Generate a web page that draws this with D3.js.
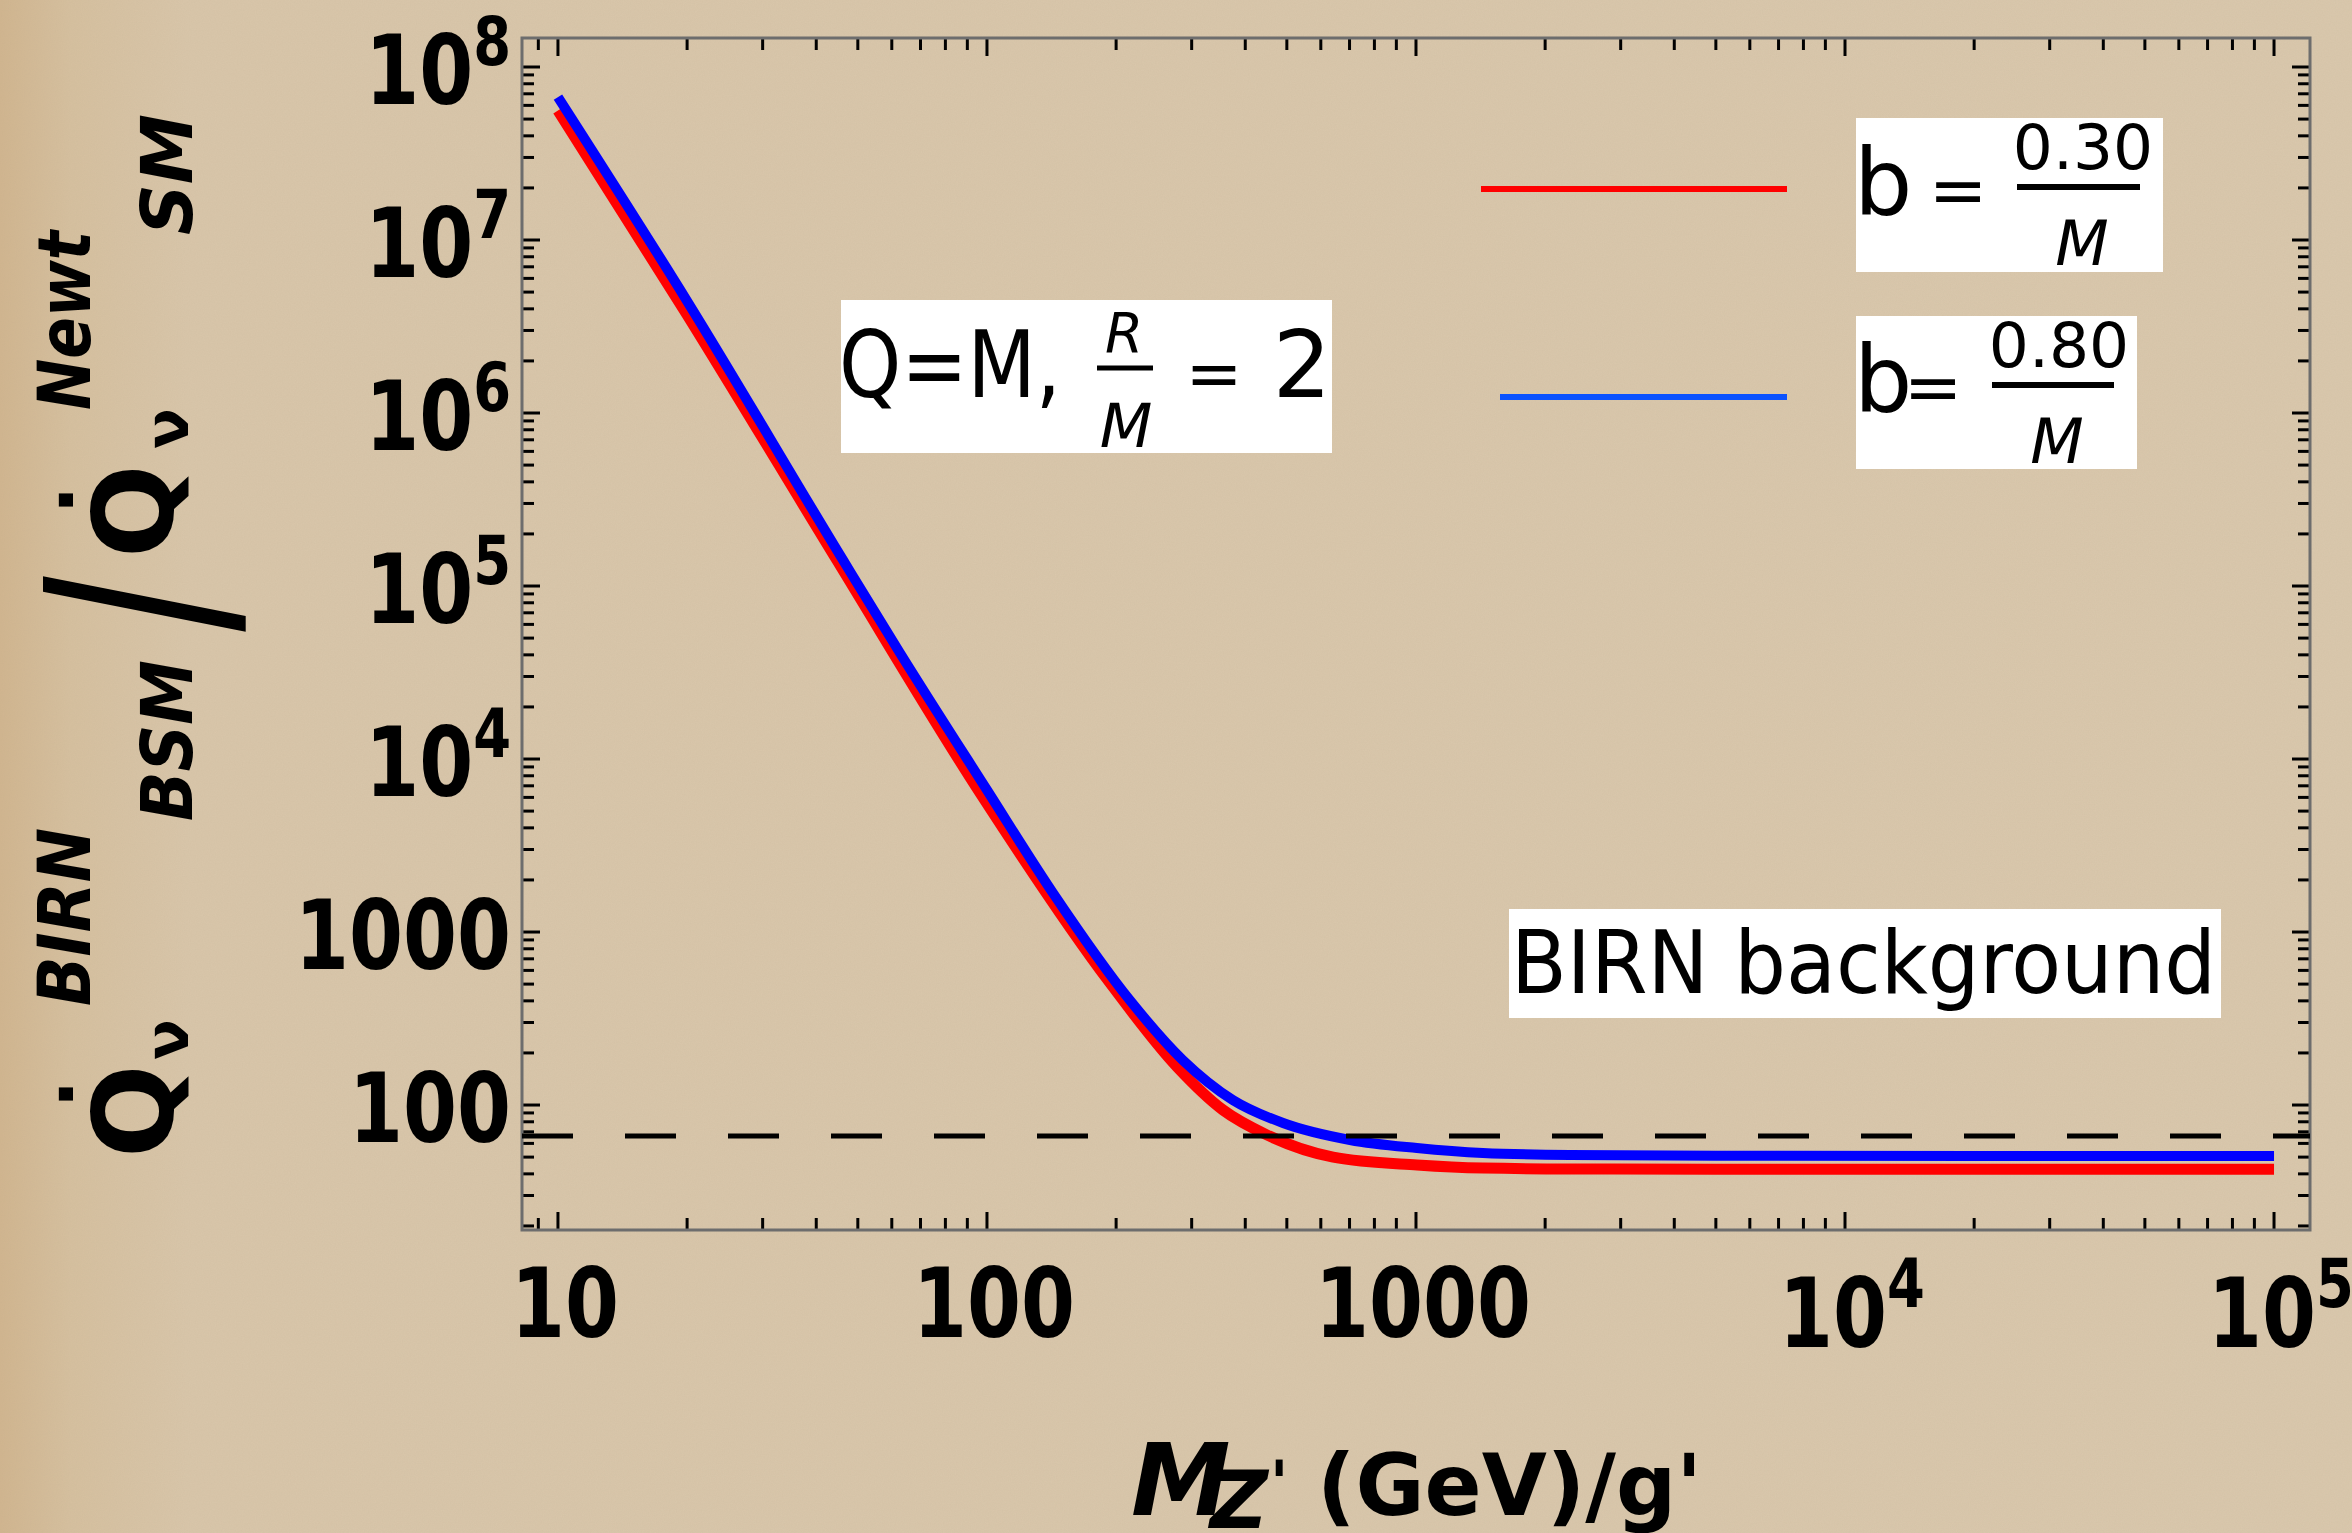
<!DOCTYPE html>
<html><head><meta charset="utf-8">
<script src="https://cdn.jsdelivr.net/npm/d3@7"></script>
<style>html,body{margin:0;padding:0;background:#d9c7ab;} svg{display:block}</style>
</head><body>
<svg id="chart" width="2352" height="1533"></svg>
<script>
// ---------------- data ----------------
const xDomain = [8.245, 121300];
const yDomain = [18.95, 1.471e8];
const xTickValues = [10, 100, 1000, 1e4, 1e5];
const xTickLabels = [["10",""],["100",""],["1000",""],["10","4"],["10","5"]];
const yTickValues = [100, 1000, 1e4, 1e5, 1e6, 1e7, 1e8];
const yTickLabels = [["100",""],["1000",""],["10","4"],["10","5"],["10","6"],["10","7"],["10","8"]];

const redX  = [10, 20, 44.7, 96.4, 193.6, 277.5, 355, 449, 641, 1005, 1432, 2285, 5000, 20000, 100000];
const redY  = [5.6e7, 3.7e6, 1.41e5, 6.36e3, 507, 166, 93.6, 67.2, 50.0, 45.0, 43.2, 42.7, 42.6, 42.5, 42.5];
const blueX = [10, 20, 46.2, 62.7, 100, 142.5, 215, 286, 374, 490, 702, 1005, 1432, 2285, 5000, 20000, 100000];
const blueY = [6.7e7, 4.44e6, 1.41e5, 4.10e4, 6.62e3, 1.68e3, 405, 182, 107, 78.7, 62.8, 56.4, 52.8, 51.4, 50.9, 50.7, 50.7];
const backgroundLevel = 66.2;
const legendNumerators = ["0.30", "0.80"];
const seriesColors = ["#ff0000", "#0000ff"];
const legendColors = ["#ff0000", "#0a52ff"];

// ---------------- layout ----------------
const L = 522, R = 2310, T = 38, B = 1230;
const svg = d3.select("#chart");
const x = d3.scaleLog().domain(xDomain).range([L, R]);
const y = d3.scaleLog().domain(yDomain).range([B, T]);

const defs = svg.append("defs");
const grad = defs.append("linearGradient").attr("id","bg").attr("x1","0").attr("x2","1").attr("y1","0").attr("y2","0");
[[0,"#d1b58f"],[0.03,"#d6c09f"],[0.08,"#d9c6aa"],[1,"#dac8ad"]].forEach(s=>grad.append("stop").attr("offset",s[0]).attr("stop-color",s[1]));
const f = defs.append("filter").attr("id","noise").attr("x",0).attr("y",0).attr("width","100%").attr("height","100%");
f.append("feTurbulence").attr("type","fractalNoise").attr("baseFrequency","0.85").attr("numOctaves","2").attr("seed","4");
f.append("feColorMatrix").attr("type","matrix").attr("values","0 0 0 0 0.45  0 0 0 0 0.38  0 0 0 0 0.25  0 0 0 0.14 0");

svg.append("rect").attr("width",2352).attr("height",1533).attr("fill","url(#bg)");
svg.append("rect").attr("width",2352).attr("height",1533).attr("filter","url(#noise)");

// ---------------- ticks ----------------
const isMajor = v => Math.abs(Math.log10(v) - Math.round(Math.log10(v))) < 1e-9;
const xt = x.ticks(), yt = y.ticks();
const tg = svg.append("g").attr("stroke","#000").attr("stroke-width",3);
tg.selectAll(".xb").data(xt).join("line")
  .attr("x1",d=>x(d)).attr("x2",d=>x(d)).attr("y1",B).attr("y2",d=>B-(isMajor(d)?18:12));
tg.selectAll(".xt").data(xt).join("line")
  .attr("x1",d=>x(d)).attr("x2",d=>x(d)).attr("y1",T).attr("y2",d=>T+(isMajor(d)?18:12));
tg.selectAll(".yl").data(yt).join("line")
  .attr("y1",d=>y(d)).attr("y2",d=>y(d)).attr("x1",L).attr("x2",d=>L+(isMajor(d)?18:12));
tg.selectAll(".yr").data(yt).join("line")
  .attr("y1",d=>y(d)).attr("y2",d=>y(d)).attr("x1",R).attr("x2",d=>R-(isMajor(d)?18:12));

// frame
svg.append("rect").attr("x",L).attr("y",T).attr("width",R-L).attr("height",B-T)
  .attr("fill","none").attr("stroke","#6d6d6d").attr("stroke-width",3);

// ---------------- curves ----------------
const line = d3.line().x(d=>x(d[0])).y(d=>y(d[1])).curve(d3.curveMonotoneX);
const redData = redX.map((v,i)=>[v, redY[i]]);
const blueData = blueX.map((v,i)=>[v, blueY[i]]);
svg.append("path").datum(redData).attr("d",line).attr("fill","none")
  .attr("stroke",seriesColors[0]).attr("stroke-width",11);
svg.append("path").datum(blueData).attr("d",line).attr("fill","none")
  .attr("stroke",seriesColors[1]).attr("stroke-width",10);

// dashed background line
svg.append("line").attr("x1",x.range()[0]).attr("x2",x.range()[1])
  .attr("y1",y(backgroundLevel)).attr("y2",y(backgroundLevel))
  .attr("stroke","#000").attr("stroke-width",5).attr("stroke-dasharray","51,52");

// ---------------- tick labels ----------------
const SX = 0.8;
function powLabel(g, parts, tx, ty, anchor, expDy){
  const t = g.append("text").attr("transform",`translate(${tx},${ty}) scale(${SX},1)`)
    .attr("text-anchor",anchor).attr("font-family","DejaVu Sans").attr("font-weight","bold")
    .attr("font-size",97).attr("fill","#000");
  t.append("tspan").text(parts[0]);
  if (parts[1]) t.append("tspan").attr("font-size",68).attr("dy",expDy).text(parts[1]);
}
const lg = svg.append("g");
xTickValues.forEach((v,i)=>{
  const p = xTickLabels[i];
  powLabel(lg, p, x(v)+7, p[1] ? 1347 : 1337, "middle", -40);
});
yTickValues.forEach((v,i)=>{
  powLabel(lg, yTickLabels[i], 511, y(v)+37, "end", -39);
});

// ---------------- y axis label ----------------
const yl = svg.append("g").attr("transform","rotate(-90)")
  .attr("font-family","DejaVu Sans").attr("font-weight","bold").attr("fill","#000");
function yt_(txt, X, Y, size, opts={}){
  const t = yl.append("text").attr("x",-Y).attr("y",X).attr("font-size",size).text(txt);
  if (opts.italic) t.attr("font-style","italic");
  if (opts.anchor) t.attr("text-anchor",opts.anchor);
  if (opts.len) t.attr("textLength",opts.len).attr("lengthAdjust","spacingAndGlyphs");
  if (opts.family) t.attr("font-family",opts.family).attr("font-weight",opts.weight||"normal");
  return t;
}
yt_("Q", 173, 1158, 110);
yt_(".", 73, 1094, 75, {anchor:"middle"});
yt_("ν", 188, 1060, 60);
yt_("BIRN", 90, 1006, 73, {italic:true, len:178});
yt_("BSM", 192, 821, 72, {italic:true, len:161});
// large delimiter slash, stretched along its length
yl.append("text").attr("transform",`translate(${-604},${243}) scale(1,1.38)`)
  .attr("text-anchor","middle").attr("font-family","Liberation Sans").attr("font-weight","normal")
  .attr("font-size",200).text("/");
yt_("Q", 173, 558, 110);
yt_(".", 73, 500, 75, {anchor:"middle"});
yt_("ν", 188, 449, 60);
yt_("Newt", 90, 410, 73, {italic:true, len:179});
yt_("SM", 192, 235, 72, {italic:true, len:121});

// ---------------- x axis label ----------------
const xl = svg.append("g").attr("font-family","DejaVu Sans").attr("font-weight","bold").attr("fill","#000");
xl.append("text").attr("x",1131).attr("y",1515).attr("font-size",100).attr("font-style","italic").text("M");
xl.append("text").attr("x",1210).attr("y",1528).attr("font-size",80).attr("font-style","italic").text("Z");
xl.append("text").attr("x",1270).attr("y",1504).attr("font-size",60).text("'");
xl.append("text").attr("x",1317).attr("y",1515).attr("font-size",86)
  .attr("textLength",385).attr("lengthAdjust","spacingAndGlyphs").text("(GeV)/g'");

// ---------------- annotation boxes ----------------
const ag = svg.append("g").attr("font-family","DejaVu Sans").attr("fill","#000");
function box(x0,y0,x1,y1){ ag.append("rect").attr("x",x0).attr("y",y0).attr("width",x1-x0).attr("height",y1-y0).attr("fill","#fff"); }
function txt(s, X, Y, size, opts={}){
  const t = ag.append("text").attr("x",X).attr("y",Y).attr("font-size",size).text(s);
  if (opts.anchor) t.attr("text-anchor",opts.anchor);
  if (opts.italic) t.attr("font-style","italic");
  if (opts.len) t.attr("textLength",opts.len).attr("lengthAdjust","spacingAndGlyphs");
  return t;
}
function bar(x0,x1,yy,w){ ag.append("line").attr("x1",x0).attr("x2",x1).attr("y1",yy).attr("y2",yy).attr("stroke","#000").attr("stroke-width",w); }

// Q=M, R/M = 2
box(841,300,1332,453);
txt("Q=M,", 839, 397, 92, {len:222});
txt("R", 1124, 352, 55, {anchor:"middle", italic:true});
bar(1097,1153,368,5);
txt("M", 1126, 447, 61, {anchor:"middle", italic:true});
txt("=", 1214, 397, 68, {anchor:"middle"});
txt("2", 1302, 397, 92, {anchor:"middle"});

// legend
const legY = [189, 397], legX0 = [1481, 1500], legX1 = 1787;
legY.forEach((ly,i)=>{
  svg.append("line").attr("x1",legX0[i]).attr("x2",legX1).attr("y1",ly).attr("y2",ly)
    .attr("stroke",legendColors[i]).attr("stroke-width",6);
});
box(1856,118,2163,272);
txt("b", 1854, 215, 92);
txt("=", 1958, 214, 70, {anchor:"middle"});
bar(2017,2140,187,6);
txt(legendNumerators[0], 2083, 169, 63, {anchor:"middle"});
txt("M", 2082, 265, 62, {anchor:"middle", italic:true});

box(1856,316,2137,469);
txt("b", 1854, 412, 92);
txt("=", 1933, 411, 70, {anchor:"middle"});
bar(1992,2114,385,6);
txt(legendNumerators[1], 2059, 367, 63, {anchor:"middle"});
txt("M", 2057, 463, 62, {anchor:"middle", italic:true});

// BIRN background
box(1509,909,2221,1018);
txt("BIRN background", 1511, 993, 88, {len:705});
</script>
</body></html>
